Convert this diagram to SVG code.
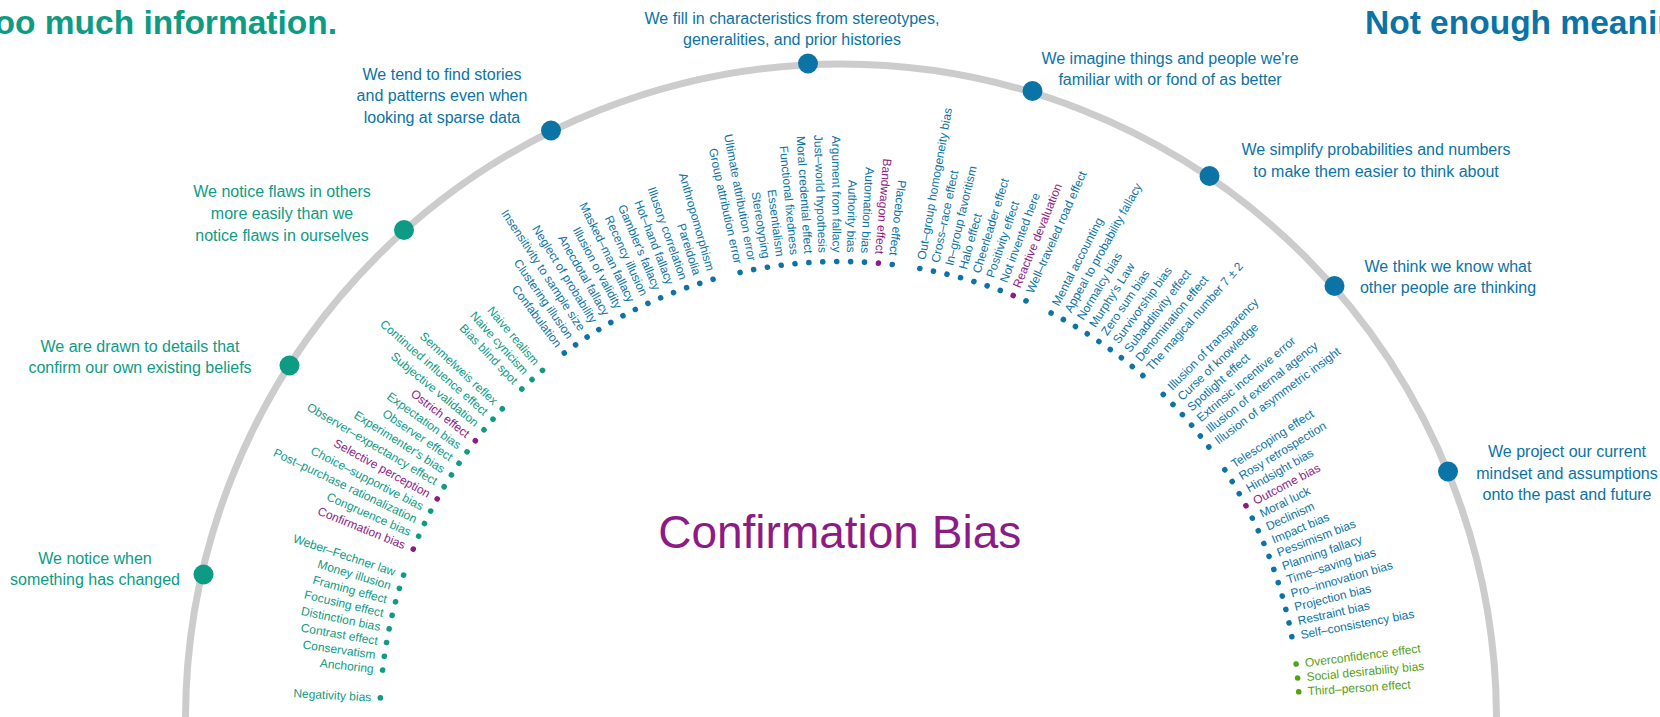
<svg xmlns="http://www.w3.org/2000/svg" width="1660" height="717" viewBox="0 0 1660 717">
<style>
text{font-family:"Liberation Sans",Arial,Helvetica,sans-serif}
.title{font-size:33.5px;font-weight:bold}
.cat{font-size:16px;text-anchor:middle}
.big{font-size:46px;text-anchor:middle}
.it text{font-size:12px}
.L text{text-anchor:end}
.teal{fill:#0d9b84}
.blue{fill:#0b73a5}
.purple{fill:#8d1b85}
.green{fill:#55a014}
.ring{fill:none;stroke:#cccccc;stroke-width:7}
</style>
<rect width="1660" height="717" fill="#ffffff"/>
<g id="connectors">
<circle class="ring" cx="841" cy="719.5" r="655.5"/>
</g>
<text class="title teal" x="337" y="33.5" text-anchor="end">Too much information.</text>
<text class="title blue" x="1365" y="33.5">Not enough meaning.</text>
<text class="big purple" x="839.7" y="548">Confirmation Bias</text>

<g id="cat-changed" class="teal"><circle cx="203.5" cy="574.5" r="10"/><text class="cat" x="95" y="564">We notice when</text><text class="cat" x="95" y="585">something has changed</text></g>
<g id="cat-confirm" class="teal"><circle cx="289.5" cy="365.5" r="10"/><text class="cat" x="140" y="352">We are drawn to details that</text><text class="cat" x="140" y="373">confirm our own existing beliefs</text></g>
<g id="cat-flaws" class="teal"><circle cx="404" cy="230" r="10"/><text class="cat" x="282" y="197">We notice flaws in others</text><text class="cat" x="282" y="219">more easily than we</text><text class="cat" x="282" y="241">notice flaws in ourselves</text></g>
<g id="cat-stories" class="blue"><circle cx="551" cy="130.5" r="10"/><text class="cat" x="442" y="79.5">We tend to find stories</text><text class="cat" x="442" y="101">and patterns even when</text><text class="cat" x="442" y="122.5">looking at sparse data</text></g>
<g id="cat-stereo" class="blue"><circle cx="808" cy="63.5" r="10"/><text class="cat" x="792" y="23.5">We fill in characteristics from stereotypes,</text><text class="cat" x="792" y="44.5">generalities, and prior histories</text></g>
<g id="cat-familiar" class="blue"><circle cx="1032.5" cy="91" r="10"/><text class="cat" x="1170" y="63.5">We imagine things and people we're</text><text class="cat" x="1170" y="85">familiar with or fond of as better</text></g>
<g id="cat-simplify" class="blue"><circle cx="1209.5" cy="176" r="10"/><text class="cat" x="1376" y="155">We simplify probabilities and numbers</text><text class="cat" x="1376" y="176.5">to make them easier to think about</text></g>
<g id="cat-think" class="blue"><circle cx="1334.5" cy="286" r="10"/><text class="cat" x="1448" y="271.5">We think we know what</text><text class="cat" x="1448" y="293">other people are thinking</text></g>
<g id="cat-project" class="blue"><circle cx="1448" cy="471.5" r="10"/><text class="cat" x="1567" y="457">We project our current</text><text class="cat" x="1567" y="478.5">mindset and assumptions</text><text class="cat" x="1567" y="500">onto the past and future</text></g>

<g id="biases" transform="translate(839.7,721.5)">
<g class="it L">
<g id="b00" class="teal" transform="rotate(2.95)"><circle cx="-460" r="2.8"/><text x="-469" dy="4">Negativity bias</text></g>
<g id="b02" class="teal" transform="rotate(6.42)"><circle cx="-460" r="2.8"/><text x="-469" dy="4">Anchoring</text></g>
<g id="b03" class="teal" transform="rotate(8.15)"><circle cx="-460" r="2.8"/><text x="-469" dy="4">Conservatism</text></g>
<g id="b04" class="teal" transform="rotate(9.88)"><circle cx="-460" r="2.8"/><text x="-469" dy="4">Contrast effect</text></g>
<g id="b05" class="teal" transform="rotate(11.62)"><circle cx="-460" r="2.8"/><text x="-469" dy="4">Distinction bias</text></g>
<g id="b06" class="teal" transform="rotate(13.35)"><circle cx="-460" r="2.8"/><text x="-469" dy="4">Focusing effect</text></g>
<g id="b07" class="teal" transform="rotate(15.08)"><circle cx="-460" r="2.8"/><text x="-469" dy="4">Framing effect</text></g>
<g id="b08" class="teal" transform="rotate(16.82)"><circle cx="-460" r="2.8"/><text x="-469" dy="4">Money illusion</text></g>
<g id="b09" class="teal" transform="rotate(18.55)"><circle cx="-460" r="2.8"/><text x="-469" dy="4">Weber–Fechner law</text></g>
<g id="b11" class="purple" transform="rotate(22.02)"><circle cx="-460" r="2.8"/><text x="-469" dy="4">Confirmation bias</text></g>
<g id="b12" class="teal" transform="rotate(23.75)"><circle cx="-460" r="2.8"/><text x="-469" dy="4">Congruence bias</text></g>
<g id="b13" class="teal" transform="rotate(25.49)"><circle cx="-460" r="2.8"/><text x="-469" dy="4">Post–purchase rationalization</text></g>
<g id="b14" class="teal" transform="rotate(27.22)"><circle cx="-460" r="2.8"/><text x="-469" dy="4">Choice–supportive bias</text></g>
<g id="b15" class="purple" transform="rotate(28.95)"><circle cx="-460" r="2.8"/><text x="-469" dy="4">Selective perception</text></g>
<g id="b16" class="teal" transform="rotate(30.69)"><circle cx="-460" r="2.8"/><text x="-469" dy="4">Observer–expectancy effect</text></g>
<g id="b17" class="teal" transform="rotate(32.42)"><circle cx="-460" r="2.8"/><text x="-469" dy="4">Experimenter's bias</text></g>
<g id="b18" class="teal" transform="rotate(34.15)"><circle cx="-460" r="2.8"/><text x="-469" dy="4">Observer effect</text></g>
<g id="b19" class="teal" transform="rotate(35.89)"><circle cx="-460" r="2.8"/><text x="-469" dy="4">Expectation bias</text></g>
<g id="b20" class="purple" transform="rotate(37.62)"><circle cx="-460" r="2.8"/><text x="-469" dy="4">Ostrich effect</text></g>
<g id="b21" class="teal" transform="rotate(39.35)"><circle cx="-460" r="2.8"/><text x="-469" dy="4">Subjective validation</text></g>
<g id="b22" class="teal" transform="rotate(41.09)"><circle cx="-460" r="2.8"/><text x="-469" dy="4">Continued influence effect</text></g>
<g id="b23" class="teal" transform="rotate(42.82)"><circle cx="-460" r="2.8"/><text x="-469" dy="4">Semmelweis reflex</text></g>
<g id="b25" class="teal" transform="rotate(46.29)"><circle cx="-460" r="2.8"/><text x="-469" dy="4">Bias blind spot</text></g>
<g id="b26" class="teal" transform="rotate(48.02)"><circle cx="-460" r="2.8"/><text x="-469" dy="4">Naive cynicism</text></g>
<g id="b27" class="teal" transform="rotate(49.75)"><circle cx="-460" r="2.8"/><text x="-469" dy="4">Naive realism</text></g>
<g id="b29" class="blue" transform="rotate(53.22)"><circle cx="-460" r="2.8"/><text x="-469" dy="4">Confabulation</text></g>
<g id="b30" class="blue" transform="rotate(54.96)"><circle cx="-460" r="2.8"/><text x="-469" dy="4">Clustering illusion</text></g>
<g id="b31" class="blue" transform="rotate(56.69)"><circle cx="-460" r="2.8"/><text x="-469" dy="4">Insensitivity to sample size</text></g>
<g id="b32" class="blue" transform="rotate(58.42)"><circle cx="-460" r="2.8"/><text x="-469" dy="4">Neglect of probability</text></g>
<g id="b33" class="blue" transform="rotate(60.16)"><circle cx="-460" r="2.8"/><text x="-469" dy="4">Anecdotal fallacy</text></g>
<g id="b34" class="blue" transform="rotate(61.89)"><circle cx="-460" r="2.8"/><text x="-469" dy="4">Illusion of validity</text></g>
<g id="b35" class="blue" transform="rotate(63.62)"><circle cx="-460" r="2.8"/><text x="-469" dy="4">Masked–man fallacy</text></g>
<g id="b36" class="blue" transform="rotate(65.36)"><circle cx="-460" r="2.8"/><text x="-469" dy="4">Recency illusion</text></g>
<g id="b37" class="blue" transform="rotate(67.09)"><circle cx="-460" r="2.8"/><text x="-469" dy="4">Gambler's fallacy</text></g>
<g id="b38" class="blue" transform="rotate(68.82)"><circle cx="-460" r="2.8"/><text x="-469" dy="4">Hot–hand fallacy</text></g>
<g id="b39" class="blue" transform="rotate(70.56)"><circle cx="-460" r="2.8"/><text x="-469" dy="4">Illusory correlation</text></g>
<g id="b40" class="blue" transform="rotate(72.29)"><circle cx="-460" r="2.8"/><text x="-469" dy="4">Pareidolia</text></g>
<g id="b41" class="blue" transform="rotate(74.02)"><circle cx="-460" r="2.8"/><text x="-469" dy="4">Anthropomorphism</text></g>
<g id="b43" class="blue" transform="rotate(77.49)"><circle cx="-460" r="2.8"/><text x="-469" dy="4">Group attribution error</text></g>
<g id="b44" class="blue" transform="rotate(79.22)"><circle cx="-460" r="2.8"/><text x="-469" dy="4">Ultimate attribution error</text></g>
<g id="b45" class="blue" transform="rotate(80.96)"><circle cx="-460" r="2.8"/><text x="-469" dy="4">Stereotyping</text></g>
<g id="b46" class="blue" transform="rotate(82.69)"><circle cx="-460" r="2.8"/><text x="-469" dy="4">Essentialism</text></g>
<g id="b47" class="blue" transform="rotate(84.42)"><circle cx="-460" r="2.8"/><text x="-469" dy="4">Functional fixedness</text></g>
<g id="b48" class="blue" transform="rotate(86.16)"><circle cx="-460" r="2.8"/><text x="-469" dy="4">Moral credential effect</text></g>
<g id="b49" class="blue" transform="rotate(87.89)"><circle cx="-460" r="2.8"/><text x="-469" dy="4">Just–world hypothesis</text></g>
<g id="b50" class="blue" transform="rotate(89.63)"><circle cx="-460" r="2.8"/><text x="-469" dy="4">Argument from fallacy</text></g>
<g id="b51" class="blue" transform="rotate(91.36)"><circle cx="-460" r="2.8"/><text x="-469" dy="4">Authority bias</text></g>
<g id="b52" class="blue" transform="rotate(93.09)"><circle cx="-460" r="2.8"/><text x="-469" dy="4">Automation bias</text></g>
<g id="b53" class="purple" transform="rotate(94.83)"><circle cx="-460" r="2.8"/><text x="-469" dy="4">Bandwagon effect</text></g>
<g id="b54" class="blue" transform="rotate(96.56)"><circle cx="-460" r="2.8"/><text x="-469" dy="4">Placebo effect</text></g>
</g>
<g class="it">
<g id="b56" class="blue" transform="rotate(280.03)"><circle cx="460" r="2.8"/><text x="469" dy="4">Out–group homogeneity bias</text></g>
<g id="b57" class="blue" transform="rotate(281.76)"><circle cx="460" r="2.8"/><text x="469" dy="4">Cross–race effect</text></g>
<g id="b58" class="blue" transform="rotate(283.49)"><circle cx="460" r="2.8"/><text x="469" dy="4">In–group favoritism</text></g>
<g id="b59" class="blue" transform="rotate(285.23)"><circle cx="460" r="2.8"/><text x="469" dy="4">Halo effect</text></g>
<g id="b60" class="blue" transform="rotate(286.96)"><circle cx="460" r="2.8"/><text x="469" dy="4">Cheerleader effect</text></g>
<g id="b61" class="blue" transform="rotate(288.69)"><circle cx="460" r="2.8"/><text x="469" dy="4">Positivity effect</text></g>
<g id="b62" class="blue" transform="rotate(290.43)"><circle cx="460" r="2.8"/><text x="469" dy="4">Not invented here</text></g>
<g id="b63" class="purple" transform="rotate(292.16)"><circle cx="460" r="2.8"/><text x="469" dy="4">Reactive devaluation</text></g>
<g id="b64" class="blue" transform="rotate(293.89)"><circle cx="460" r="2.8"/><text x="469" dy="4">Well–traveled road effect</text></g>
<g id="b66" class="blue" transform="rotate(297.36)"><circle cx="460" r="2.8"/><text x="469" dy="4">Mental accounting</text></g>
<g id="b67" class="blue" transform="rotate(299.09)"><circle cx="460" r="2.8"/><text x="469" dy="4">Appeal to probability fallacy</text></g>
<g id="b68" class="blue" transform="rotate(300.83)"><circle cx="460" r="2.8"/><text x="469" dy="4">Normalcy bias</text></g>
<g id="b69" class="blue" transform="rotate(302.56)"><circle cx="460" r="2.8"/><text x="469" dy="4">Murphy's Law</text></g>
<g id="b70" class="blue" transform="rotate(304.30)"><circle cx="460" r="2.8"/><text x="469" dy="4">Zero sum bias</text></g>
<g id="b71" class="blue" transform="rotate(306.03)"><circle cx="460" r="2.8"/><text x="469" dy="4">Survivorship bias</text></g>
<g id="b72" class="blue" transform="rotate(307.76)"><circle cx="460" r="2.8"/><text x="469" dy="4">Subadditivity effect</text></g>
<g id="b73" class="blue" transform="rotate(309.50)"><circle cx="460" r="2.8"/><text x="469" dy="4">Denomination effect</text></g>
<g id="b74" class="blue" transform="rotate(311.23)"><circle cx="460" r="2.8"/><text x="469" dy="4">The magical number 7 ± 2</text></g>
<g id="b76" class="blue" transform="rotate(314.70)"><circle cx="460" r="2.8"/><text x="469" dy="4">Illusion of transparency</text></g>
<g id="b77" class="blue" transform="rotate(316.43)"><circle cx="460" r="2.8"/><text x="469" dy="4">Curse of knowledge</text></g>
<g id="b78" class="blue" transform="rotate(318.16)"><circle cx="460" r="2.8"/><text x="469" dy="4">Spotlight effect</text></g>
<g id="b79" class="blue" transform="rotate(319.90)"><circle cx="460" r="2.8"/><text x="469" dy="4">Extrinsic incentive error</text></g>
<g id="b80" class="blue" transform="rotate(321.63)"><circle cx="460" r="2.8"/><text x="469" dy="4">Illusion of external agency</text></g>
<g id="b81" class="blue" transform="rotate(323.36)"><circle cx="460" r="2.8"/><text x="469" dy="4">Illusion of asymmetric insight</text></g>
<g id="b83" class="blue" transform="rotate(326.83)"><circle cx="460" r="2.8"/><text x="469" dy="4">Telescoping effect</text></g>
<g id="b84" class="blue" transform="rotate(328.56)"><circle cx="460" r="2.8"/><text x="469" dy="4">Rosy retrospection</text></g>
<g id="b85" class="blue" transform="rotate(330.30)"><circle cx="460" r="2.8"/><text x="469" dy="4">Hindsight bias</text></g>
<g id="b86" class="purple" transform="rotate(332.03)"><circle cx="460" r="2.8"/><text x="469" dy="4">Outcome bias</text></g>
<g id="b87" class="blue" transform="rotate(333.76)"><circle cx="460" r="2.8"/><text x="469" dy="4">Moral luck</text></g>
<g id="b88" class="blue" transform="rotate(335.50)"><circle cx="460" r="2.8"/><text x="469" dy="4">Declinism</text></g>
<g id="b89" class="blue" transform="rotate(337.23)"><circle cx="460" r="2.8"/><text x="469" dy="4">Impact bias</text></g>
<g id="b90" class="blue" transform="rotate(338.96)"><circle cx="460" r="2.8"/><text x="469" dy="4">Pessimism bias</text></g>
<g id="b91" class="blue" transform="rotate(340.70)"><circle cx="460" r="2.8"/><text x="469" dy="4">Planning fallacy</text></g>
<g id="b92" class="blue" transform="rotate(342.43)"><circle cx="460" r="2.8"/><text x="469" dy="4">Time–saving bias</text></g>
<g id="b93" class="blue" transform="rotate(344.17)"><circle cx="460" r="2.8"/><text x="469" dy="4">Pro–innovation bias</text></g>
<g id="b94" class="blue" transform="rotate(345.90)"><circle cx="460" r="2.8"/><text x="469" dy="4">Projection bias</text></g>
<g id="b95" class="blue" transform="rotate(347.63)"><circle cx="460" r="2.8"/><text x="469" dy="4">Restraint bias</text></g>
<g id="b96" class="blue" transform="rotate(349.37)"><circle cx="460" r="2.8"/><text x="469" dy="4">Self–consistency bias</text></g>
<g id="b98" class="green" transform="rotate(352.83)"><circle cx="460" r="2.8"/><text x="469" dy="4">Overconfidence effect</text></g>
<g id="b99" class="green" transform="rotate(354.57)"><circle cx="460" r="2.8"/><text x="469" dy="4">Social desirability bias</text></g>
<g id="b100" class="green" transform="rotate(356.30)"><circle cx="460" r="2.8"/><text x="469" dy="4">Third–person effect</text></g>
</g>
</g>
</svg>
